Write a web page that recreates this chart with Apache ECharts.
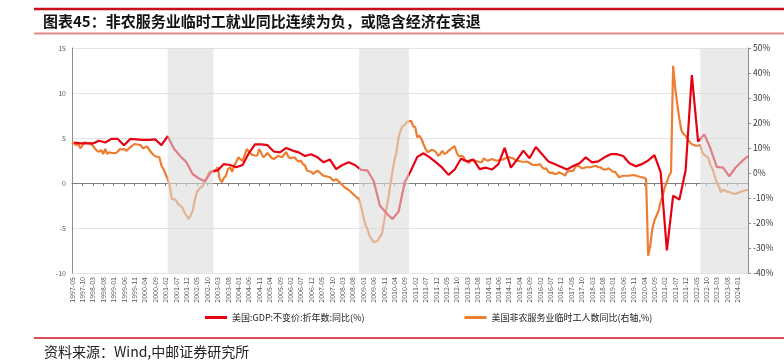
<!DOCTYPE html>
<html><head><meta charset="utf-8">
<script src="https://cdn.jsdelivr.net/npm/echarts@6/dist/echarts.min.js"></script>
<style>html,body{margin:0;padding:0;background:#fff;}#c{width:784px;height:362px;}</style>
</head><body><div id="c"></div>
<script>
// Monthly categories 1997-05 .. 2024-06
const startYear = 1997, startMonth = 5, monthCount = 326;
const months = [];
for (let i = 0; i < monthCount; i++) {
  const m = startMonth - 1 + i;
  months.push(startYear + Math.floor(m / 12) + '-' + String(m % 12 + 1).padStart(2, '0'));
}

// US real GDP YoY (%), quarterly, first point at 1997-06, one every 3 months
const gdpYoY = [
  4.5, 4.4, 4.4, 4.4, 4.7, 4.5, 4.9, 4.9, 4.2, 4.9,
  4.85, 4.8, 4.8, 4.85, 4.2, 5.2, 3.8, 3.0, 2.3, 1.0,
  0.5, 0.2, 1.3, 1.4, 2.1, 2.0, 1.75, 2.0, 3.3, 4.3,
  4.3, 4.2, 3.5, 3.4, 3.9, 3.6, 3.4, 3.0, 3.2, 2.85,
  2.3, 2.6, 1.55, 2.0, 2.3, 2.0, 1.45, 1.4, 0.25, -2.5,
  -3.3, -4.0, -3.2, 0.1, 1.4, 2.9, 3.3, 2.85, 2.3, 1.7,
  0.9, 1.5, 2.7, 2.4, 2.6, 1.55, 1.7, 1.5, 2.1, 3.9,
  1.7, 2.6, 3.6, 2.75, 4.0, 3.2, 2.4, 2.1, 1.8, 1.5,
  1.9, 2.2, 2.85, 2.3, 2.4, 2.85, 3.2, 3.2, 3.0, 2.2,
  1.85, 2.1, 2.5, 3.1, 1.2, -7.5, -1.4, -1.85, 1.4, 12.0,
  4.6, 5.4, 3.8, 1.8, 1.7, 0.75, 1.7, 2.4, 3.0
];

// US non-farm service temporary help employment YoY (%), monthly, right axis
const tempYoY = [
  12.3, 11.8, 11.2, 11.6, 9.9, 11.0, 12.3, 12.0, 12.0, 11.6,
  10.9, 9.8, 8.9, 8.5, 9.2, 7.6, 9.6, 7.6, 8.3, 8.0,
  8.0, 7.9, 8.6, 9.6, 9.4, 9.6, 8.9, 9.5, 10.3, 10.9,
  11.6, 11.5, 11.3, 11.2, 9.9, 10.2, 10.7, 9.5, 8.3, 7.4,
  6.7, 6.5, 6.3, 2.9, 1.5, -0.4, -2.5, -5.1, -10.4, -10.5,
  -10.9, -12.4, -13.0, -13.7, -15.7, -17.0, -18.4, -17.1, -15.1, -11.0,
  -7.7, -6.5, -5.7, -5.1, -3.1, -1.5, 0.3, 0.5, 0.6, 0.9,
  2.3, -2.4, -3.7, -2.0, -1.1, 1.6, 2.3, 0.5, 2.9, 4.5,
  6.3, 5.5, 4.9, 7.0, 9.6, 8.5, 7.6, 7.2, 7.0, 6.9,
  9.6, 8.0, 6.3, 7.0, 8.0, 7.0, 6.0, 5.6, 6.2, 6.9,
  6.6, 6.3, 7.5, 8.3, 6.5, 5.9, 6.1, 6.3, 5.2, 4.5,
  5.0, 3.6, 3.0, 1.0, 0.7, 0.5, -0.4, 0.4, 0.9, 0.3,
  -0.5, -1.1, -1.3, -1.5, -1.7, -2.5, -3.1, -2.4, -3.2, -4.0,
  -4.8, -5.7, -6.2, -6.8, -7.5, -8.3, -9.1, -9.8, -10.4, -13.5,
  -17.1, -20.5, -22.4, -25.0, -26.5, -27.7, -27.4, -27.1, -25.5, -24.4,
  -19.7, -15.0, -10.4, -5.0, 0.3, 5.0, 8.3, 14.3, 17.0, 18.9,
  19.2, 20.5, 20.7, 20.9, 18.7, 18.3, 14.3, 14.9, 13.6, 11.5,
  9.6, 8.3, 8.8, 9.3, 9.0, 8.3, 6.9, 7.5, 8.9, 7.6,
  8.0, 8.9, 9.5, 10.2, 10.7, 8.0, 6.7, 6.8, 6.7, 5.3,
  4.5, 4.0, 5.3, 5.0, 4.9, 4.6, 4.4, 4.3, 5.9, 5.2,
  4.9, 5.3, 5.6, 5.2, 4.9, 5.1, 5.3, 5.3, 5.8, 6.0,
  6.3, 6.1, 5.9, 5.3, 4.9, 4.8, 4.6, 4.5, 4.5, 4.5,
  4.0, 3.4, 3.2, 3.3, 3.2, 3.6, 2.3, 1.6, 1.9, 0.5,
  0.0, 0.2, -0.4, -0.4, 0.3, -0.1, -0.4, -1.1, 0.5, 0.7,
  0.9, 0.8, 2.7, 2.8, 2.7, 1.9, 2.0, 2.3, 2.3, 2.3,
  2.5, 2.7, 2.9, 2.3, 2.3, 1.7, 1.3, 1.5, 1.9, 1.2,
  0.5, 0.5, -0.5, -1.7, -1.4, -1.1, -1.1, -1.1, -1.1, -0.9,
  -0.8, -1.0, -1.3, -1.5, -1.7, -1.9, -2.4, -33.1, -29.1, -22.4,
  -19.0, -17.1, -15.1, -11.5, -9.0, -5.7, -3.5, -1.1, 0.3, 42.9,
  34.0, 27.6, 21.6, 17.0, 15.6, 14.9, 13.5, 12.3, 11.5, 11.2,
  10.9, 11.0, 11.2, 8.3, 7.2, 6.7, 5.9, 3.0, 1.6, -1.3,
  -3.7, -5.5, -7.7, -6.7, -7.0, -7.5, -7.6, -8.0, -8.2, -8.4,
  -8.0, -7.7, -7.4, -7.1, -6.9, -6.7
];

// Shaded periods
const shadeRanges = [['2001-03', '2003-01'], ['2008-11', '2010-11'], ['2022-07', '2024-06']];

const leftTicks = { min: -10, max: 15, interval: 5 };
const rightTicks = { min: -40, max: 50, interval: 10 };

const seriesNames = ['美国:GDP:不变价:折年数:同比(%)', '美国非农服务业临时工人数同比(右轴,%)'];
const titleText = '图表45：非农服务业临时工就业同比连续为负，或隐含经济在衰退';
const sourceText = '资料来源：Wind,中邮证券研究所';

const gdpData = gdpYoY.map((v, k) => [months[1 + 3 * k], v]);

const chart = echarts.init(document.getElementById('c'), null, { renderer: 'canvas' });
const FONT = '"Noto Sans CJK SC", "Noto Sans", sans-serif';
chart.setOption({
  animation: false,
  textStyle: { fontFamily: FONT },
  grid: { left: 72, right: 36, top: 48, bottom: 89, containLabel: false },
  graphic: [
    { type: 'line', shape: { x1: 34, y1: 9, x2: 784, y2: 9 }, style: { stroke: '#c8101a', lineWidth: 2.5 } },
    { type: 'text', left: 43, top: 14, style: { text: titleText, font: 'bold 15px ' + FONT, fill: '#111' } },
    { type: 'line', shape: { x1: 34, y1: 33.5, x2: 784, y2: 33.5 }, style: { stroke: '#e48a8a', lineWidth: 2 } },
    { type: 'line', shape: { x1: 34, y1: 338, x2: 784, y2: 338 }, style: { stroke: '#d0101a', lineWidth: 1.5 } },
    { type: 'text', left: 44, top: 345, style: { text: sourceText, font: '14px ' + FONT, fill: '#222' } }
  ],
  legend: {
    left: 200, top: 308, itemGap: 100,
    icon: 'rect', itemWidth: 22, itemHeight: 3,
    textStyle: { fontSize: 9, color: '#222', fontFamily: FONT },
    data: seriesNames
  },
  xAxis: [
    {
      type: 'category', data: months, boundaryGap: false, position: 'bottom',
      axisLine: { show: false }, axisTick: { show: false },
      axisLabel: {
        rotate: 90, fontSize: 7, color: '#595959', margin: 4,
        interval: (i) => i % 5 === 0 && i <= 320
      },
      splitLine: { show: false }
    },
    {
      type: 'category', data: months, boundaryGap: false, position: 'top',
      axisLine: { show: true, onZero: true, onZeroAxisIndex: 0, lineStyle: { color: '#7f7f7f', width: 1 } },
      axisTick: { show: true, inside: true, length: 3, interval: (i) => i % 5 === 0, lineStyle: { color: '#7f7f7f' } },
      axisLabel: { show: false }, splitLine: { show: false }
    }
  ],
  yAxis: [
    {
      type: 'value', min: leftTicks.min, max: leftTicks.max, interval: leftTicks.interval,
      axisLine: { show: true, lineStyle: { color: '#8c8c8c' } },
      axisTick: { show: false },
      axisLabel: { fontSize: 7, color: '#595959', margin: 6 },
      splitLine: { show: true, lineStyle: { color: '#e3e3e3', width: 1 } }
    },
    {
      type: 'value', min: rightTicks.min, max: rightTicks.max, interval: rightTicks.interval,
      position: 'right',
      axisLine: { show: true, lineStyle: { color: '#8c8c8c' } },
      axisTick: { show: true, length: 3, lineStyle: { color: '#8c8c8c' } },
      axisLabel: { fontSize: 8.5, color: '#333', margin: 5, formatter: '{value}%' },
      splitLine: { show: false }
    }
  ],
  series: [
    {
      name: seriesNames[0], type: 'line', xAxisIndex: 0, yAxisIndex: 0,
      data: gdpData, showSymbol: false, symbol: 'none',
      lineStyle: { color: '#e60012', width: 2.2 }, itemStyle: { color: '#e60012' }, z: 3
    },
    {
      name: seriesNames[1], type: 'line', xAxisIndex: 0, yAxisIndex: 1,
      data: tempYoY, showSymbol: false, symbol: 'none',
      lineStyle: { color: '#ed7d31', width: 2.2 }, itemStyle: { color: '#ed7d31' }, z: 2
    },
    {
      name: 'shade', type: 'line', xAxisIndex: 0, yAxisIndex: 0, data: [], z: 10,
      markArea: {
        silent: true, z: 10,
        itemStyle: { color: 'rgba(218,218,218,0.58)' },
        data: shadeRanges.map(r => [{ xAxis: r[0] }, { xAxis: r[1] }])
      }
    }
  ]
});
</script>
</body></html>
